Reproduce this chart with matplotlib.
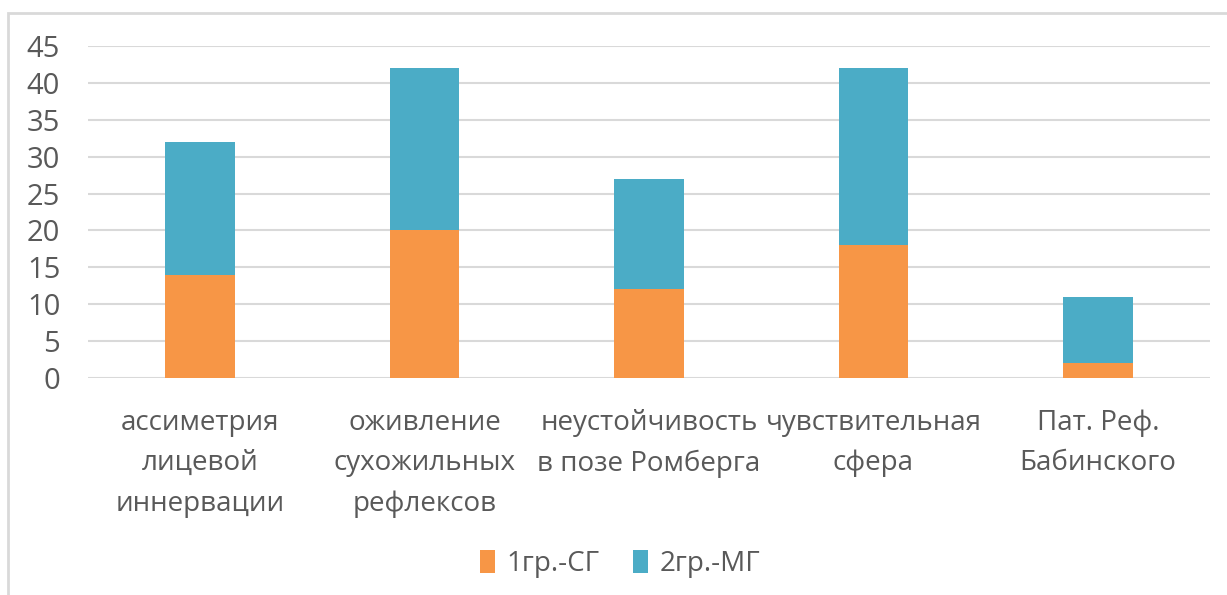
import matplotlib.pyplot as plt
from matplotlib.patches import Rectangle

categories = ['ассиметрия\nлицевой\nиннервации', 'оживление\nсухожильных\nрефлексов',
              'неустойчивость\nв позе Ромберга', 'чувствительная\nсфера', 'Пат. Реф.\nБабинского']
group1 = [14, 20, 12, 18, 2]
group2 = [18, 22, 15, 24, 9]
series_names = ['1гр.-СГ', '2гр.-МГ']

plt.rcParams['font.family'] = ['Liberation Sans Narrow', 'Open Sans', 'DejaVu Sans']
text_color = '#595959'
grid_color = '#D9D9D9'

fig = plt.figure(figsize=(12.27, 5.95), dpi=100)
# chart frame
fig.patches.append(Rectangle((8 / 1227, -0.1), 1.2, (595 - 13) / 595 + 0.1, transform=fig.transFigure,
                             fill=False, edgecolor='#D9D9D9', linewidth=2))
ax = fig.add_axes([88 / 1227, 1 - 378 / 595, (1210 - 88) / 1227, (378 - 46) / 595])

x = range(len(categories))
ax.bar(x, group1, width=0.31, color='#F79646', label=series_names[0], zorder=3)
ax.bar(x, group2, width=0.31, bottom=group1, color='#4BACC6', label=series_names[1], zorder=3)

ax.set_xlim(-0.5, len(categories) - 0.5)
ax.set_ylim(0, 45)
ax.set_yticks(range(0, 46, 5))
ax.yaxis.grid(True, color=grid_color, linewidth=1.5, zorder=0)
ax.set_axisbelow(True)
for s in ax.spines.values():
    s.set_visible(False)
ax.tick_params(axis='both', length=0, colors=text_color, labelsize=20)
ax.tick_params(axis='y', pad=20, labelsize=21)
ax.tick_params(axis='x', pad=22)
ax.set_xticks(list(x))
ax.set_xticklabels(categories, linespacing=1.6)

fig.legend(loc='center', bbox_to_anchor=(620 / 1227, 1 - 564 / 595), ncol=2, frameon=False,
           fontsize=20, labelcolor=text_color, handlelength=0.55, handleheight=0.9,
           handletextpad=0.4, columnspacing=1.2)

fig.savefig('out.png', dpi=100)
